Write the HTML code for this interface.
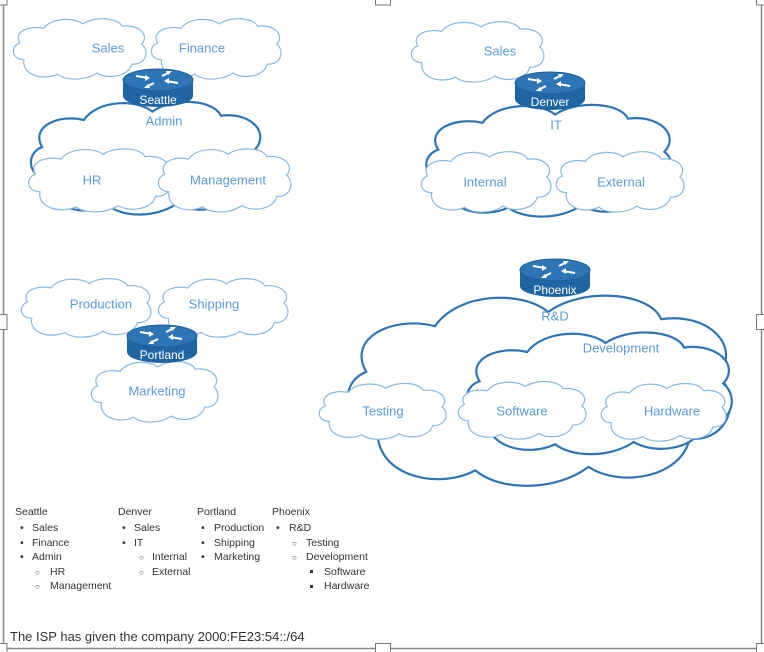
<!DOCTYPE html>
<html><head><meta charset="utf-8"><style>
html,body{margin:0;padding:0;background:#fff;}
svg{display:block;}
text{font-family:"Liberation Sans",sans-serif;}
.lbl{fill:#5b9bd5;font-size:13px;text-anchor:middle;dominant-baseline:central;}
.rl{fill:#fff;font-size:12px;text-anchor:middle;dominant-baseline:central;}
.lg{fill:#333;font-size:10.5px;}
</style></head><body>
<svg width="764" height="652" viewBox="0 0 764 652" xmlns="http://www.w3.org/2000/svg">
<defs>
<symbol id="cl" viewBox="0 0 100 60" preserveAspectRatio="none">
<path d="M10,40 C1,40 0,28 7,25 C2,15 14,9 24,12 C30,2 46,2 52,8 C60,1 77,2 80,10 C92,8 100,18 94,26 C100,32 97,45 87,44 C85,55 70,58 62,52 C54,59 40,59 34,53 C24,59 8,54 10,40 Z" fill="#fff" stroke="#8bb8de" stroke-width="1.2" vector-effect="non-scaling-stroke"/>
</symbol>
<symbol id="cd" viewBox="0 0 100 60" preserveAspectRatio="none">
<path d="M10,40 C1,40 0,28 7,25 C2,15 14,9 24,12 C30,2 46,2 52,8 C60,1 77,2 80,10 C92,8 100,18 94,26 C100,32 97,45 87,44 C85,55 70,58 62,52 C54,59 40,59 34,53 C24,59 8,54 10,40 Z" fill="#fff" stroke="#2e75b6" stroke-width="2.2" vector-effect="non-scaling-stroke"/>
</symbol>
<g id="rt">
<path d="M-35,0 L-35,16 A35,11 0 0 0 35,16 L35,0 Z" fill="#1f65a3"/>
<ellipse cx="0" cy="0" rx="35" ry="11" fill="#2e75b6" stroke="#1f5f99" stroke-width="1"/>
<g stroke="#fff" stroke-width="2" fill="#fff">
<line x1="-22" y1="-4" x2="-10" y2="-2"/><polygon points="-8,-2 -13,-5 -13,1" stroke="none"/>
<line x1="20" y1="3" x2="8" y2="1"/><polygon points="6,1 11,-2 11,4" stroke="none"/>
<line x1="4" y1="-4" x2="12" y2="-8"/><polygon points="14,-9 8,-9 10,-5" stroke="none"/>
<line x1="-4" y1="3" x2="-12" y2="7"/><polygon points="-14,8 -8,8 -10,4" stroke="none"/>
</g>
</g>
</defs>

<line x1="3.5" y1="0" x2="3.5" y2="648" stroke="#888" stroke-width="1.5"/>
<line x1="761.5" y1="0" x2="761.5" y2="648" stroke="#888" stroke-width="1.5"/>
<line x1="3" y1="648.5" x2="762" y2="648.5" stroke="#888" stroke-width="1.5"/>
<g fill="#fff" stroke="#777" stroke-width="1">
<rect x="-4" y="-6" width="11" height="11"/><rect x="375.5" y="-6" width="15" height="11"/><rect x="756.5" y="-6" width="11" height="11"/>
<rect x="-4" y="314.5" width="11" height="15"/><rect x="756.5" y="314.5" width="11" height="15"/>
<rect x="-4" y="643.5" width="11" height="11"/><rect x="375.5" y="643.5" width="15" height="11"/><rect x="756.5" y="643.5" width="11" height="11"/>
</g>

<use href="#cl" x="10" y="15" width="140" height="67"/>
<use href="#cl" x="148" y="15" width="137" height="67"/>
<use href="#cd" x="25" y="95" width="245" height="125"/>
<use href="#cl" x="25" y="145" width="150" height="70"/>
<use href="#cl" x="155" y="145" width="140" height="70"/>
<text class="lbl" x="108" y="48">Sales</text>
<text class="lbl" x="202" y="48">Finance</text>
<text class="lbl" x="164" y="121">Admin</text>
<text class="lbl" x="92" y="180">HR</text>
<text class="lbl" x="228" y="180">Management</text>
<use href="#rt" x="158" y="80"/><text class="rl" x="158" y="100">Seattle</text>

<use href="#cl" x="408" y="18" width="140" height="67"/>
<use href="#cd" x="420" y="98" width="260" height="124"/>
<use href="#cl" x="418" y="148" width="137" height="67"/>
<use href="#cl" x="553" y="148" width="135" height="67"/>
<text class="lbl" x="500" y="51">Sales</text>
<text class="lbl" x="556" y="125">IT</text>
<text class="lbl" x="485" y="182">Internal</text>
<text class="lbl" x="621" y="182">External</text>
<use href="#rt" x="550" y="83"/><text class="rl" x="550" y="102">Denver</text>

<use href="#cl" x="18" y="275" width="137" height="65"/>
<use href="#cl" x="155" y="275" width="137" height="65"/>
<use href="#cl" x="88" y="358" width="134" height="67"/>
<text class="lbl" x="101" y="304">Production</text>
<text class="lbl" x="214" y="304">Shipping</text>
<text class="lbl" x="157" y="391">Marketing</text>
<use href="#rt" x="162" y="336"/><text class="rl" x="162" y="355">Portland</text>

<use href="#cd" x="338" y="284" width="404" height="211"/>
<use href="#cd" x="460" y="325" width="280" height="135"/>
<use href="#cl" x="316" y="380" width="134" height="62"/>
<use href="#cl" x="455" y="378" width="135" height="64"/>
<use href="#cl" x="598" y="380" width="132" height="64"/>
<text class="lbl" x="555" y="316">R&amp;D</text>
<text class="lbl" x="621" y="348">Development</text>
<text class="lbl" x="383" y="411">Testing</text>
<text class="lbl" x="522" y="411">Software</text>
<text class="lbl" x="672" y="411">Hardware</text>
<use href="#rt" x="555" y="270"/><text class="rl" x="555" y="290">Phoenix</text>

<g class="lg">
<text x="15" y="515">Seattle</text>
<text x="20" y="531">•</text><text x="32" y="531">Sales</text>
<text x="20" y="546">•</text><text x="32" y="546">Finance</text>
<text x="20" y="560">•</text><text x="32" y="560">Admin</text>
<text x="35" y="575" font-size="8">○</text><text x="50" y="575">HR</text>
<text x="35" y="589" font-size="8">○</text><text x="50" y="589">Management</text>

<text x="118" y="515">Denver</text>
<text x="122" y="531">•</text><text x="134" y="531">Sales</text>
<text x="122" y="546">•</text><text x="134" y="546">IT</text>
<text x="139" y="560" font-size="8">○</text><text x="152" y="560">Internal</text>
<text x="139" y="575" font-size="8">○</text><text x="152" y="575">External</text>

<text x="197" y="515">Portland</text>
<text x="201" y="531">•</text><text x="214" y="531">Production</text>
<text x="201" y="546">•</text><text x="214" y="546">Shipping</text>
<text x="201" y="560">•</text><text x="214" y="560">Marketing</text>

<text x="272" y="515">Phoenix</text>
<text x="276" y="531">•</text><text x="289" y="531">R&amp;D</text>
<text x="292" y="546" font-size="8">○</text><text x="306" y="546">Testing</text>
<text x="292" y="560" font-size="8">○</text><text x="306" y="560">Development</text>
<rect x="310" y="570" width="3" height="3" fill="#333"/><text x="324" y="575">Software</text>
<rect x="310" y="585" width="3" height="3" fill="#333"/><text x="324" y="589">Hardware</text>
</g>
<text x="10" y="641" fill="#333" font-size="13">The ISP has given the company 2000:FE23:54::/64</text>
</svg>
</body></html>
